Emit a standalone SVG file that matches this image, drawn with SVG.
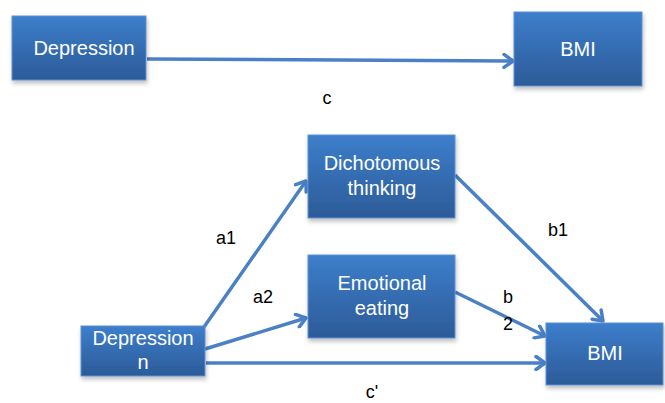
<svg xmlns="http://www.w3.org/2000/svg" width="665" height="403" viewBox="0 0 665 403">
<defs>
<linearGradient id="g" x1="0" y1="0" x2="0" y2="1">
<stop offset="0" stop-color="#3d7ecb"/>
<stop offset="1" stop-color="#2c5b98"/>
</linearGradient>
<filter id="sh" x="-10%" y="-10%" width="130%" height="140%">
<feDropShadow dx="1" dy="3" stdDeviation="2" flood-color="#000" flood-opacity="0.25"/>
</filter>
<marker id="ah" markerUnits="userSpaceOnUse" markerWidth="16" markerHeight="16" refX="12" refY="8" orient="auto" viewBox="0 0 16 16">
<path d="M3,1.5 L12,8 L3,14.5" fill="none" stroke="#4a80c6" stroke-width="3.5" stroke-linecap="round" stroke-linejoin="round"/>
</marker>
</defs>
<style>
.box{fill:url(#g);stroke:#5d92d4;stroke-width:1;filter:url(#sh)}
.bt{font-family:"Liberation Sans",Arial,sans-serif;font-size:20px;fill:#fff;text-anchor:middle}
.lbl{font-family:"Liberation Sans",Arial,sans-serif;font-size:18px;fill:#000;text-anchor:middle}
.ln{stroke:#4a80c6;stroke-width:3.5;fill:none;marker-end:url(#ah)}
</style>
<g id="connectors">
<line class="ln" x1="147" y1="59" x2="513" y2="61"/>
<line class="ln" x1="204" y1="327" x2="306" y2="181"/>
<line class="ln" x1="205" y1="349" x2="306" y2="318"/>
<line class="ln" x1="206" y1="363" x2="545" y2="363"/>
<line class="ln" x1="455" y1="175" x2="603" y2="321"/>
<line class="ln" x1="455" y1="292" x2="545" y2="336"/>
</g>
<g id="depression-top">
<rect class="box" x="12" y="16" width="134" height="64"/>
<text class="bt" x="84" y="55">Depression</text>
</g>
<g id="bmi-top">
<rect class="box" x="514" y="12" width="128" height="74"/>
<text class="bt" x="578" y="56">BMI</text>
</g>
<g id="dichotomous">
<rect class="box" x="308" y="135" width="147" height="83"/>
<text class="bt" x="382" y="170">Dichotomous</text>
<text class="bt" x="382" y="195">thinking</text>
</g>
<g id="emotional">
<rect class="box" x="308" y="255" width="147" height="83"/>
<text class="bt" x="382" y="290">Emotional</text>
<text class="bt" x="382" y="315">eating</text>
</g>
<g id="depression-bottom">
<rect class="box" x="81" y="326" width="124" height="50"/>
<text class="bt" x="143" y="345">Depression</text>
<text class="bt" x="143" y="369">n</text>
</g>
<g id="bmi-bottom">
<rect class="box" x="546" y="323" width="117" height="62"/>
<text class="bt" x="605" y="360">BMI</text>
</g>
<g id="labels">
<text class="lbl" x="327" y="104">c</text>
<text class="lbl" x="226" y="244">a1</text>
<text class="lbl" x="263" y="303">a2</text>
<text class="lbl" x="558" y="236">b1</text>
<text class="lbl" x="508" y="303">b</text>
<text class="lbl" x="508" y="330">2</text>
<text class="lbl" x="372" y="398">c'</text>
</g>
</svg>
